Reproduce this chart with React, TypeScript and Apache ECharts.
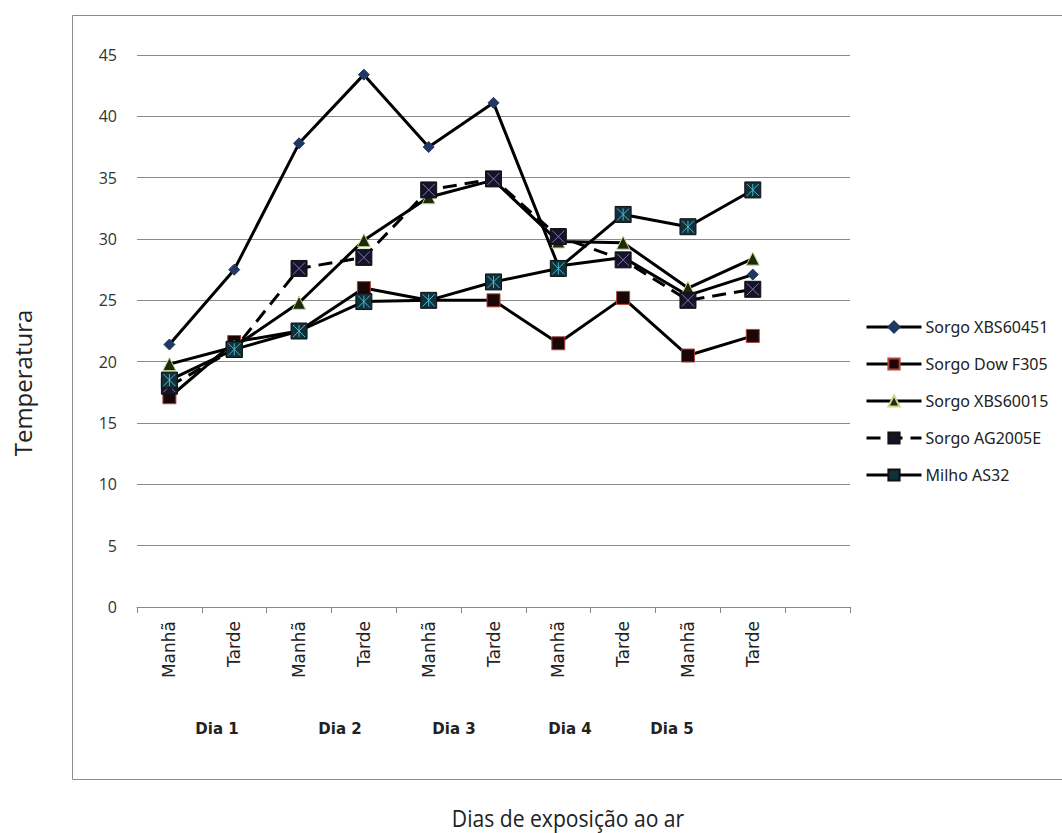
import React, { useEffect, useRef } from "react";
import * as echarts from "echarts";

const categories = ["Manhã", "Tarde", "Manhã", "Tarde", "Manhã", "Tarde", "Manhã", "Tarde", "Manhã", "Tarde", ""];
const dayLabels = ["Dia 1", "Dia 2", "Dia 3", "Dia 4", "Dia 5"];
const yTicks = { min: 0, max: 45, interval: 5 };

const sorgoXBS60451 = [21.4, 27.5, 37.8, 43.4, 37.5, 41.1, 27.8, 28.5, 25.4, 27.1];
const sorgoDowF305 = [17.1, 21.6, 22.5, 26.0, 25.0, 25.0, 21.5, 25.2, 20.5, 22.1];
const sorgoXBS60015 = [19.8, 21.2, 24.8, 29.9, 33.4, 34.8, 29.8, 29.7, 26.0, 28.4];
const sorgoAG2005E = [18.0, 21.0, 27.6, 28.5, 34.0, 34.9, 30.2, 28.3, 25.0, 25.9];
const milhoAS32 = [18.5, 21.0, 22.5, 24.9, 25.0, 26.5, 27.6, 32.0, 31.0, 34.0];

const seriesNames = ["Sorgo XBS60451", "Sorgo Dow F305", "Sorgo XBS60015", "Sorgo AG2005E", "Milho AS32"];

const X_PATH = "path://M0,0L10,10M10,0L0,10";
const STAR_PATH = "path://M0,0L10,10M10,0L0,10M5,0L5,10";

export default function App() {
  const ref = useRef<HTMLDivElement>(null);

  useEffect(() => {
    if (!ref.current) return;
    const chart = echarts.init(ref.current, null, { renderer: "svg" });

    const line = (name: string, data: number[], extra: any) => ({
      name,
      type: "line",
      data,
      lineStyle: { color: "#000", width: 3, ...(extra.lineStyle || {}) },
      symbol: extra.symbol,
      symbolSize: extra.symbolSize,
      itemStyle: extra.itemStyle,
      z: extra.z,
    });

    const overlay = (data: number[], path: string, color: string, size: number, z: number) => ({
      type: "line",
      data,
      lineStyle: { width: 0, opacity: 0 },
      symbol: path,
      symbolSize: size,
      itemStyle: { color: "rgba(0,0,0,0)", borderColor: color, borderWidth: 1 },
      silent: true,
      z,
    });

    const dayX = [217, 340, 454, 570, 672];

    const option: any = {
      animation: false,
      backgroundColor: "#fff",
      grid: { left: 137, right: 212, top: 55, bottom: 226 },
      legend: {
        data: seriesNames,
        orient: "vertical",
        left: 860,
        top: 314,
        itemWidth: 55,
        itemHeight: 14,
        itemGap: 21,
        lineStyle: { width: 3 },
        textStyle: { fontFamily: "Noto Sans", fontSize: 16, color: "#222", padding: [0, 0, 0, -1] },
      },
      xAxis: {
        type: "category",
        data: categories,
        boundaryGap: true,
        axisLine: { lineStyle: { color: "#888", width: 1 } },
        axisTick: { show: true, interval: 0, length: 6, lineStyle: { color: "#888" } },
        axisLabel: {
          interval: 0,
          rotate: 90,
          margin: 14,
          fontFamily: "DejaVu Sans",
          fontSize: 17,
          color: "#222",
        },
      },
      yAxis: {
        type: "value",
        min: yTicks.min,
        max: yTicks.max,
        interval: yTicks.interval,
        axisLine: { show: false },
        axisTick: { show: false },
        axisLabel: { margin: 20, fontFamily: "Open Sans", fontSize: 16, color: "#333" },
        splitLine: { lineStyle: { color: "#8a8a8a", width: 1 } },
      },
      graphic: [
        {
          type: "rect",
          shape: { x: 72.5, y: 15.5, width: 1000, height: 764 },
          style: { fill: "none", stroke: "#8c8c8c", lineWidth: 1 },
          silent: true,
        },
        ...dayLabels.map((t, i) => ({
          type: "text",
          x: dayX[i],
          y: 729,
          style: {
            text: t,
            fontFamily: "DejaVu Sans",
            fontWeight: "bold",
            fontSize: 15,
            fill: "#222",
            align: "center",
            verticalAlign: "middle",
          },
        })),
        {
          type: "text",
          x: 568,
          y: 818,
          scaleX: 0.88,
          style: {
            text: "Dias de exposição ao ar",
            fontFamily: "Open Sans",
            fontSize: 24,
            fill: "#222",
            align: "center",
            verticalAlign: "middle",
          },
        },
        {
          type: "text",
          x: 22,
          y: 383,
          rotation: Math.PI / 2,
          style: {
            text: "Temperatura",
            fontFamily: "Open Sans",
            fontSize: 24,
            fill: "#222",
            align: "center",
            verticalAlign: "middle",
          },
        },
      ],
      series: [
        line(seriesNames[0], sorgoXBS60451, {
          symbol: "diamond",
          symbolSize: 11,
          itemStyle: { color: "#1f3864", borderColor: "#1f3864", borderWidth: 1 },
          z: 2,
        }),
        line(seriesNames[1], sorgoDowF305, {
          symbol: "rect",
          symbolSize: 13,
          itemStyle: { color: "#1a0606", borderColor: "#b3403d", borderWidth: 1 },
          z: 3,
        }),
        line(seriesNames[2], sorgoXBS60015, {
          symbol: "triangle",
          symbolSize: 13,
          itemStyle: { color: "#1e2a0e", borderColor: "#c7d98a", borderWidth: 1 },
          z: 4,
        }),
        line(seriesNames[3], sorgoAG2005E, {
          symbol: "rect",
          symbolSize: 16,
          lineStyle: { type: [14, 8] },
          itemStyle: { color: "#141428", borderColor: "#111", borderWidth: 1 },
          z: 5,
        }),
        line(seriesNames[4], milhoAS32, {
          symbol: "rect",
          symbolSize: 16,
          itemStyle: { color: "#10303a", borderColor: "#111", borderWidth: 1 },
          z: 7,
        }),
        overlay(sorgoAG2005E, X_PATH, "#8a72b5", 12, 6),
        overlay(milhoAS32, STAR_PATH, "#4bb8d0", 12, 8),
      ],
    };

    chart.setOption(option);
    return () => chart.dispose();
  }, []);

  return (
    <div
      ref={ref}
      style={{ position: "absolute", left: 0, top: 0, width: 1062, height: 833 }}
    />
  );
}
